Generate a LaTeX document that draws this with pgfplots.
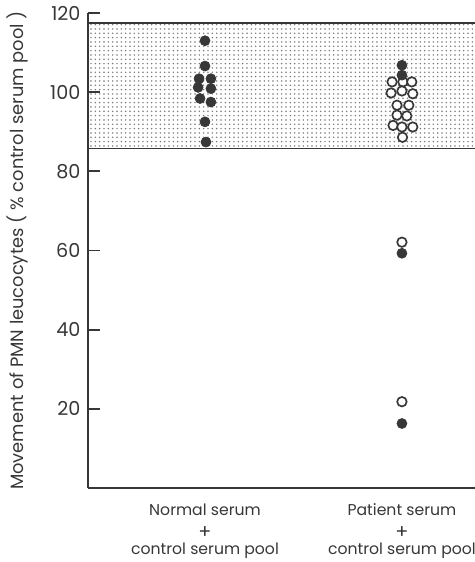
\documentclass[border=0pt]{standalone}
\usepackage{fontspec}
\setmainfont{Poppins}
\usepackage{pgfplots}
\pgfplotsset{compat=1.18}
\usetikzlibrary{patterns.meta}
\definecolor{ink}{RGB}{55,55,55}
\definecolor{stipple}{RGB}{120,120,120}

\begin{document}
\begin{tikzpicture}
\begin{axis}[
  scale only axis, width=232.2pt, height=285pt,
  xmin=0.406, xmax=2.371, ymin=0, ymax=120,
  axis x line=bottom, axis y line=left,
  axis line style={-, line width=1.1pt, draw=ink},
  clip=false,
  ytick={20,40,60,80,100,120},
  xtick={1,2},
  xticklabels={{Normal serum\\[2.2pt]{\fontsize{11.5}{11.4}\selectfont +}\\[-1.6pt]control serum pool},
               {Patient serum\\[2.2pt]{\fontsize{11.5}{11.4}\selectfont +}\\[-1.6pt]control serum pool}},
  xtick style={draw=none},
  ytick style={line width=1.1pt, draw=ink},
  tick align=inside, major tick length=7pt,
  /pgf/number format/assume math mode=true,
  yticklabel style={font=\fontsize{11.5}{13}\selectfont, text=ink, xshift=-1pt},
  xticklabel style={align=center, font=\fontsize{9.4}{11.4}\selectfont, text=ink, yshift=-6pt},
]
% reference band (normal range)
\addplot[draw=none, pattern={Dots[distance=2.6pt, radius=0.5pt]}, pattern color=stipple]
  coordinates {(0.406,85.8) (2.371,85.8) (2.371,117.5) (0.406,117.5)} -- cycle;
\addplot[ink, line width=1pt] coordinates {(0.406,85.8) (2.371,85.8)};
\addplot[ink, line width=1pt] coordinates {(0.406,117.5) (2.371,117.5)};

% normal serum
\addplot[only marks, mark=*, mark size=3pt, ink, mark options={fill=ink}] coordinates {
  (1,113) (1,106.6) (0.97,103.4) (1.03,103.4) (0.965,101.2) (1.03,100.9)
  (0.975,98.4) (1.03,97.5) (1,92.5) (1.005,87.4)
};
% patient serum, open
\addplot[only marks, mark=*, mark size=2.85pt, ink, mark options={fill=white, line width=1pt}] coordinates {
  (1.95,102.6) (2.005,102.6) (2.05,102.6) (1.945,99.8) (2,100.3) (2.055,99.6)
  (1.975,96.7) (2.035,96.7) (1.975,94.2) (2.025,94.0) (1.955,91.6) (2,91.2)
  (2.055,91.2) (2.003,88.6) (2,62.1) (2,21.8)
};
% patient serum, filled
\addplot[only marks, mark=*, mark size=3pt, ink, mark options={fill=ink}] coordinates {
  (2,106.8) (2,104.3) (2,59.3) (2,16.3)
};

\node[rotate=90, font=\fontsize{10.7}{12}\selectfont, text=ink]
  at ([xshift=-42.6pt]axis description cs:0,0.5)
  {Movement of PMN leucocytes ( \% control serum pool )};
\coordinate (sw) at (axis description cs:0,0);
\coordinate (ne) at (axis description cs:1,1);
\end{axis}
\pgfresetboundingbox
\path[use as bounding box] ([xshift=-52.8pt,yshift=-44.4pt]sw) rectangle ([yshift=7.8pt]ne);
\end{tikzpicture}
\end{document}
